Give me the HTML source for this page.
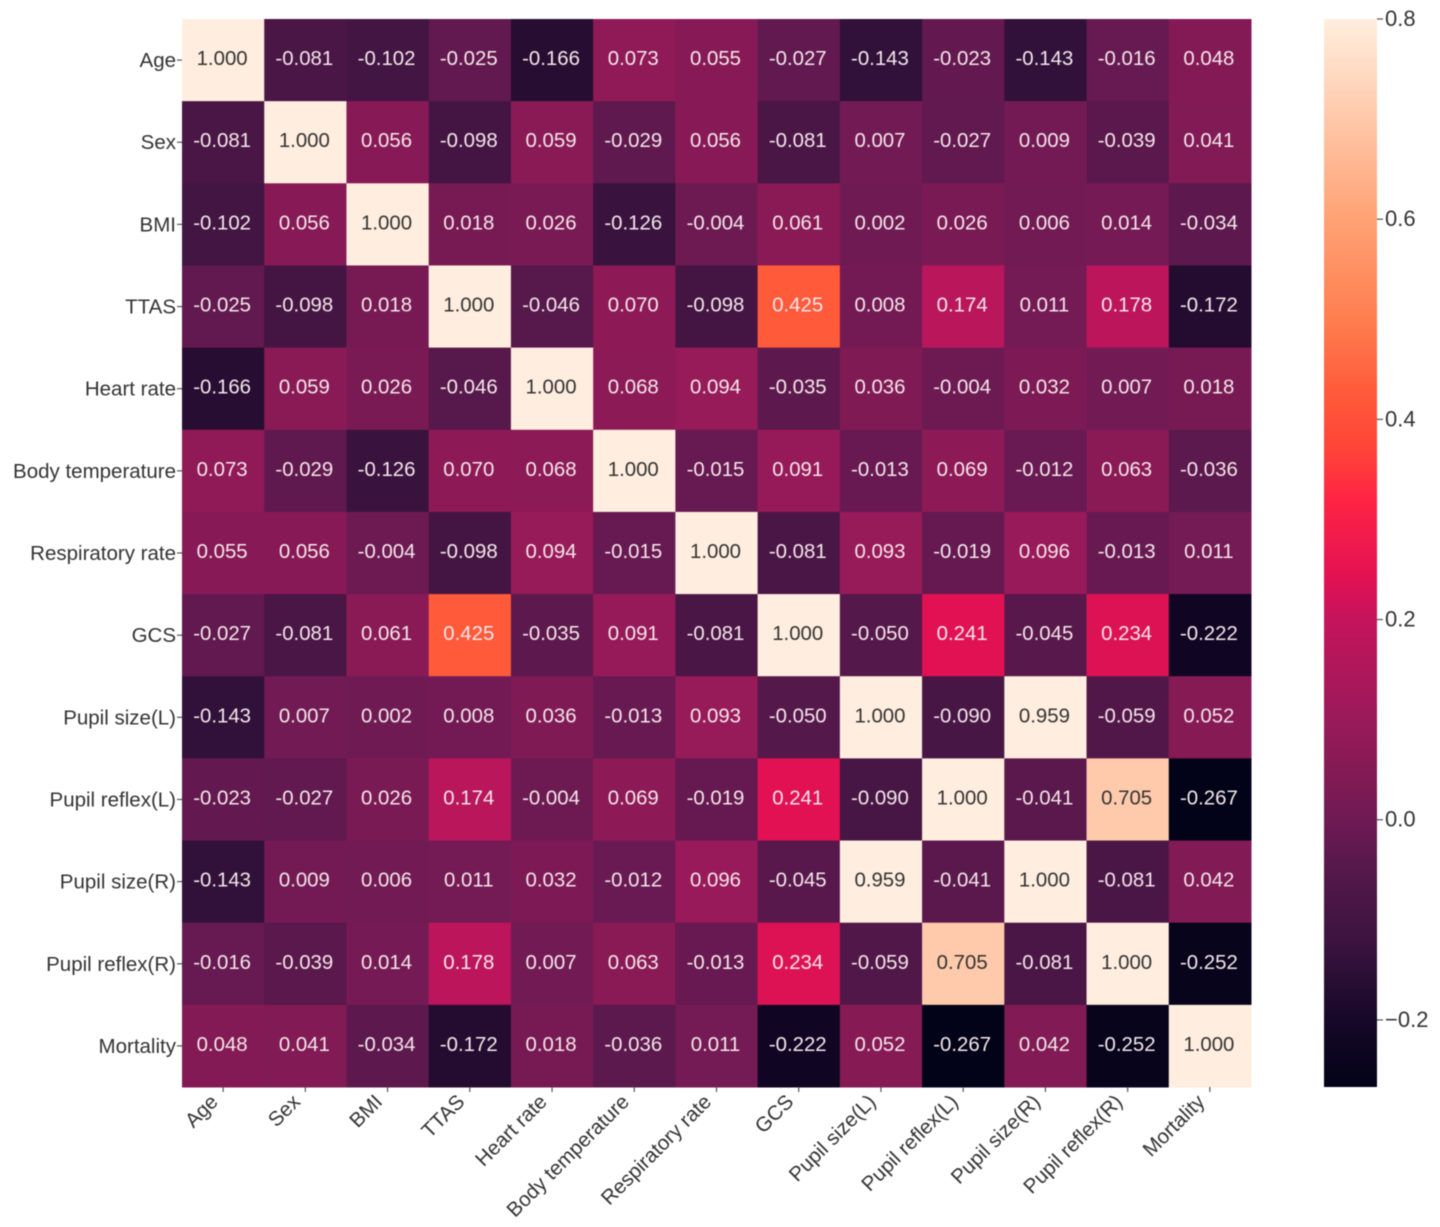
<!DOCTYPE html>
<html lang="en">
<head>
<meta charset="utf-8">
<title>Correlation heatmap</title>
<style>
html,body{margin:0;padding:0;background:#fff;width:1440px;height:1227px;overflow:hidden}
svg{display:block;font-family:"Liberation Sans",Arial,sans-serif;filter:blur(0.5px)}
</style>
</head>
<body>
<svg id="chart" xmlns="http://www.w3.org/2000/svg" width="1440" height="1227" viewBox="0 0 1440 1227"></svg>
<script>
const categories = ["Age","Sex","BMI","TTAS","Heart rate","Body temperature","Respiratory rate","GCS","Pupil size(L)","Pupil reflex(L)","Pupil size(R)","Pupil reflex(R)","Mortality"];
const rowAge = [1.000,-0.081,-0.102,-0.025,-0.166,0.073,0.055,-0.027,-0.143,-0.023,-0.143,-0.016,0.048];
const rowSex = [-0.081,1.000,0.056,-0.098,0.059,-0.029,0.056,-0.081,0.007,-0.027,0.009,-0.039,0.041];
const rowBMI = [-0.102,0.056,1.000,0.018,0.026,-0.126,-0.004,0.061,0.002,0.026,0.006,0.014,-0.034];
const rowTTAS = [-0.025,-0.098,0.018,1.000,-0.046,0.070,-0.098,0.425,0.008,0.174,0.011,0.178,-0.172];
const rowHeartRate = [-0.166,0.059,0.026,-0.046,1.000,0.068,0.094,-0.035,0.036,-0.004,0.032,0.007,0.018];
const rowBodyTemp = [0.073,-0.029,-0.126,0.070,0.068,1.000,-0.015,0.091,-0.013,0.069,-0.012,0.063,-0.036];
const rowRespRate = [0.055,0.056,-0.004,-0.098,0.094,-0.015,1.000,-0.081,0.093,-0.019,0.096,-0.013,0.011];
const rowGCS = [-0.027,-0.081,0.061,0.425,-0.035,0.091,-0.081,1.000,-0.050,0.241,-0.045,0.234,-0.222];
const rowPupilSizeL = [-0.143,0.007,0.002,0.008,0.036,-0.013,0.093,-0.050,1.000,-0.090,0.959,-0.059,0.052];
const rowPupilReflexL = [-0.023,-0.027,0.026,0.174,-0.004,0.069,-0.019,0.241,-0.090,1.000,-0.041,0.705,-0.267];
const rowPupilSizeR = [-0.143,0.009,0.006,0.011,0.032,-0.012,0.096,-0.045,0.959,-0.041,1.000,-0.081,0.042];
const rowPupilReflexR = [-0.016,-0.039,0.014,0.178,0.007,0.063,-0.013,0.234,-0.059,0.705,-0.081,1.000,-0.252];
const rowMortality = [0.048,0.041,-0.034,-0.172,0.018,-0.036,0.011,-0.222,0.052,-0.267,0.042,-0.252,1.000];
const matrix = [rowAge,rowSex,rowBMI,rowTTAS,rowHeartRate,rowBodyTemp,rowRespRate,rowGCS,rowPupilSizeL,rowPupilReflexL,rowPupilSizeR,rowPupilReflexR,rowMortality];
const colorbarTicks = [0.8,0.6,0.4,0.2,0.0,-0.2];
const colorMin = -0.267;
const colorMax = 0.8;

const NS = "http://www.w3.org/2000/svg";
const svg = document.getElementById("chart");
const plot = {left:182, right:1251, top:19, bottom:1087};
const bar = {left:1324, right:1377, top:19, bottom:1087};
/* colormap anchors sampled from the printed colorbar: [value, colour] */
const ramp = [[-0.267,"#020318"],[-0.2,"#170828"],[-0.12,"#3c1440"],[-0.05,"#55184a"],[0,"#6f1a54"],[0.048,"#841a55"],[0.1,"#9a1a5a"],[0.2,"#c5145c"],[0.241,"#e21153"],[0.32,"#ff2444"],[0.37,"#ff4438"],[0.425,"#ff5a3a"],[0.5,"#ff7e50"],[0.6,"#ffa274"],[0.8,"#ffeedf"]];

function hex(c){return [1,3,5].map(i=>parseInt(c.substr(i,2),16));}
function colorRGB(v){
  const x=Math.max(colorMin,Math.min(colorMax,v));
  let i=0;
  while(i<ramp.length-2 && x>ramp[i+1][0]){i++;}
  const f=(x-ramp[i][0])/(ramp[i+1][0]-ramp[i][0]);
  const a=hex(ramp[i][1]), b=hex(ramp[i+1][1]);
  return a.map((q,k)=>Math.round(q+(b[k]-q)*f));
}
function colorScale(v){return "rgb("+colorRGB(v).join(",")+")";}
function xBand(i){return plot.left+(plot.right-plot.left)*i/categories.length;}
function yBand(i){return plot.top+(plot.bottom-plot.top)*i/categories.length;}
function yBar(v){return bar.bottom-(v-colorMin)/(colorMax-colorMin)*(bar.bottom-bar.top);}
function make(tag,attrs,parent){
  const el=document.createElementNS(NS,tag);
  for(const k in attrs){el.setAttribute(k,attrs[k]);}
  parent.appendChild(el);
  return el;
}
function luminance(v){
  const m=colorRGB(v);
  return 0.2126*m[0]+0.7152*m[1]+0.0722*m[2];
}

const cellW=xBand(1)-xBand(0), cellH=yBand(1)-yBand(0);
const LABEL="#333333";

matrix.forEach((row,r)=>{
  row.forEach((v,c)=>{
    const rect=make("rect",{x:xBand(c),y:yBand(r),width:cellW+0.5,height:cellH+0.5,fill:colorScale(v)},svg);
    
    
    const t=make("text",{x:xBand(c)+cellW/2-1,y:yBand(r)+cellH/2+5,"text-anchor":"middle","font-size":"20.4",fill:luminance(v)>135?"#333333":"#f4e6ea"},svg);
    t.textContent=v.toFixed(3);
    
    
  });
});

categories.forEach((name,i)=>{
  const yc=yBand(i)+cellH/2;
  const yt=make("line",{x1:plot.left-5,x2:plot.left,y1:yc,y2:yc,stroke:"#555","stroke-width":1.2},svg);
  
  
  const yl=make("text",{x:plot.left-6,y:yc+7,"text-anchor":"end","font-size":"20.5",fill:LABEL},svg);
  yl.textContent=name;
  
  

  const xc=xBand(i)+cellW/2;
  const xt=make("line",{x1:xc,x2:xc,y1:plot.bottom,y2:plot.bottom+5,stroke:"#555","stroke-width":1.2},svg);
  
  
  const ax=xc-4, ay=plot.bottom+16;
  const xl=make("text",{x:ax,y:ay,"text-anchor":"end","font-size":"20.5",fill:LABEL,transform:"rotate(-45 "+ax+" "+ay+")"},svg);
  xl.textContent=name;
  
  
});

const defs=make("defs",{},svg);
const grad=make("linearGradient",{id:"rocket",x1:0,y1:1,x2:0,y2:0},defs);
ramp.forEach(s=>{make("stop",{offset:((s[0]-colorMin)/(colorMax-colorMin)*100)+"%","stop-color":s[1]},grad);});
const cbar=make("rect",{x:bar.left,y:bar.top,width:bar.right-bar.left,height:bar.bottom-bar.top,fill:"url(#rocket)"},svg);



colorbarTicks.forEach(v=>{
  const y=yBar(v);
  const tk=make("line",{x1:bar.right,x2:bar.right+6,y1:y,y2:y,stroke:"#555","stroke-width":1.2},svg);
  
  
  const lb=make("text",{x:bar.right+8,y:y+7,"font-size":"22",fill:LABEL},svg);
  lb.textContent=(v<0?"\u2212":"")+Math.abs(v).toFixed(1);
  
  
});
</script>
</body>
</html>
